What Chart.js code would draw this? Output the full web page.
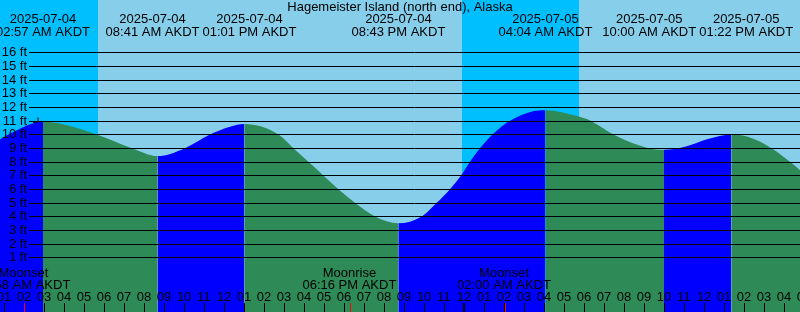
<!DOCTYPE html>
<html>
<head>
<meta charset="utf-8">
<title>Hagemeister Island (north end), Alaska</title>
<script src="https://cdn.jsdelivr.net/npm/chart.js@4"></script>
<style>
	html, body { margin: 0; padding: 0; background: #87ceeb; }
	canvas { display: block; }
</style>
</head>
<body>
<canvas id="tideChart" width="800" height="312"></canvas>
<script>
// Tide chart - hours are counted from 2025-07-04 00:00 AKDT

const chartTitle = "Hagemeister Island (north end), Alaska";

// Water level (hours, feet)
const tideHours = [
	0.8, 1.22, 2.95, 4.15, 5.63, 7.4, 8.68, 10.05, 11.3, 12.3,
	13.02, 14.72, 15.47, 16.22, 16.97, 17.72, 18.55, 19.55, 20.72, 21.885,
	22.635, 23.3, 23.85, 24.3, 24.8, 25.43, 26.3, 27.45, 28.07, 29.7,
	30.33, 31.47, 33.22, 34.0, 35.05, 36.2, 37.37, 38.2, 39.38, 40.3,
	40.8,
];
const tideFeet = [
	9.64, 10.0, 10.93, 10.68, 10.0, 9.0, 8.42, 9.0, 10.0, 10.56,
	10.76, 10.0, 9.0, 8.0, 7.0, 6.0, 5.0, 4.0, 3.5, 4.0,
	5.0, 6.0, 7.0, 8.0, 9.0, 10.0, 11.0, 11.7, 11.78, 11.33,
	11.0, 10.0, 9.0, 8.88, 9.1, 9.66, 10.0, 9.83, 9.0, 8.0,
	7.39,
];

// High / low tide events shown along the top
const eventHours = [2.95, 8.68, 13.02, 20.72, 28.07, 34.0, 37.37];
const eventDates = [
	"2025-07-04", "2025-07-04", "2025-07-04", "2025-07-04",
	"2025-07-05", "2025-07-05", "2025-07-05",
];
const eventTimes = [
	"02:57 AM AKDT", "08:41 AM AKDT", "01:01 PM AKDT", "08:43 PM AKDT",
	"04:04 AM AKDT", "10:00 AM AKDT", "01:22 PM AKDT",
];

// Moon events shown along the bottom
const moonHours = [1.97, 18.27, 26.0];
const moonNames = ["Moonset", "Moonrise", "Moonset"];
const moonTimes = ["01:58 AM AKDT", "06:16 PM AKDT", "02:00 AM AKDT"];

// Night bands (sunset -> sunrise)
const nightStart = [0.8, 23.88];
const nightEnd = [5.68, 29.75];

// Depth ruler
const footTicks = [1, 2, 3, 4, 5, 6, 7, 8, 9, 10, 11, 12, 13, 14, 15, 16];

// "+" marker on the curve
const markerHour = [2.7];
const markerFeet = [10.88];

const colors = {
	day: "#87ceeb",
	night: "#00bfff",
	rising: "#0000ff",
	falling: "#2e8b57",
	ink: "#000000",
	moon: "#ff0000",
};

const font = "13px 'Liberation Sans', Arial, sans-serif";

function hourLabel(h) {
	const v = ((h - 1) % 12) + 1;
	return v < 10 ? "0" + v : String(v);
}

// push neighbouring labels apart so they do not overlap
function spreadLabels(centers, widths, gap) {
	const out = centers.slice();
	for (let i = 0; i < out.length - 1; i++) {
		const need = (widths[i] + widths[i + 1]) / 2 + gap;
		const d = out[i + 1] - out[i];
		if (d < need) {
			const shift = (need - d) / 2;
			out[i] -= shift;
			out[i + 1] += shift;
		}
	}
	return out;
}

// Sky behind the water
const skyPlugin = {
	id: "sky",
	beforeDatasetsDraw(chart) {
		const { ctx, chartArea: a, scales } = chart;
		ctx.save();
		ctx.fillStyle = colors.day;
		ctx.fillRect(a.left, a.top, a.width, a.height);
		ctx.fillStyle = colors.night;
		for (let i = 0; i < nightStart.length; i++) {
			const x0 = Math.round(scales.x.getPixelForValue(nightStart[i]));
			const x1 = Math.round(scales.x.getPixelForValue(nightEnd[i]));
			ctx.fillRect(x0, a.top, x1 - x0, a.height);
		}
		ctx.restore();
	},
};

// Ruler lines, labels and hour ticks
const decorPlugin = {
	id: "decor",
	afterDatasetsDraw(chart) {
		const { ctx, chartArea: a, scales } = chart;
		const xs = scales.x;
		const ys = scales.y;
		ctx.save();
		ctx.font = font;
		ctx.fillStyle = colors.ink;
		ctx.strokeStyle = colors.ink;
		ctx.lineWidth = 1;
		ctx.textBaseline = "middle";

		// foot lines
		footTicks.forEach((ft) => {
			const y = Math.round(ys.getPixelForValue(ft)) + 0.5;
			ctx.beginPath();
			ctx.moveTo(29, y);
			ctx.lineTo(a.right, y);
			ctx.stroke();
			ctx.textAlign = "right";
			ctx.fillText(ft + " ft", 27, y);
		});

		// title
		ctx.textAlign = "center";
		ctx.fillText(chartTitle, (a.left + a.right) / 2, 7.5);

		// tide events
		const widths = eventTimes.map((t) => ctx.measureText(t).width);
		const centers = spreadLabels(
			eventHours.map((h) => xs.getPixelForValue(h)),
			widths,
			3,
		);
		centers.forEach((x, i) => {
			ctx.fillText(eventDates[i], x, 19.5);
			ctx.fillText(eventTimes[i], x, 32);
		});

		// moon events
		moonHours.forEach((h, i) => {
			const x = xs.getPixelForValue(h);
			ctx.fillText(moonNames[i], x, 273.5);
			ctx.fillText(moonTimes[i], x, 285.5);
		});

		// hour labels and ticks
		for (let h = Math.ceil(xs.min); h <= Math.ceil(xs.max); h++) {
			const x = xs.getPixelForValue(h);
			ctx.fillText(hourLabel(h), x, 297);
			ctx.beginPath();
			if (h % 24 === 0) {
				ctx.lineWidth = 2;
				ctx.moveTo(x, 303);
				ctx.lineTo(x, a.bottom);
			} else {
				ctx.lineWidth = 1;
				ctx.moveTo(Math.round(x) + 0.5, 303);
				ctx.lineTo(Math.round(x) + 0.5, a.bottom);
			}
			ctx.stroke();
		}

		// moon ticks in red
		ctx.strokeStyle = colors.moon;
		ctx.lineWidth = 1;
		moonHours.forEach((h) => {
			const x = Math.floor(xs.getPixelForValue(h)) + 1.5;
			ctx.beginPath();
			ctx.moveTo(x, 303);
			ctx.lineTo(x, a.bottom);
			ctx.stroke();
		});
		ctx.restore();
	},
};

new Chart(document.getElementById("tideChart"), {
	type: "line",
	data: {
		datasets: [
			{
				label: "Tide",
				data: tideHours.map((h, i) => ({ x: h, y: tideFeet[i] })),
				fill: "start",
				backgroundColor: colors.falling,
				borderWidth: 0,
				pointRadius: 0,
				cubicInterpolationMode: "monotone",
				segment: {
					backgroundColor: (c) =>
						c.p1.parsed.y > c.p0.parsed.y ? colors.rising : colors.falling,
				},
			},
			{
				label: "Marker",
				type: "scatter",
				data: markerHour.map((h, i) => ({ x: h, y: markerFeet[i] })),
				pointStyle: "cross",
				pointRadius: 5,
				borderColor: colors.ink,
				borderWidth: 1,
			},
		],
	},
	options: {
		responsive: false,
		animation: false,
		devicePixelRatio: 1,
		layout: { padding: 0, autoPadding: false },
		scales: {
			x: { type: "linear", min: 0.8, max: 40.8, display: false },
			y: { min: -2.99, max: 19.84, display: false },
		},
		plugins: {
			legend: { display: false },
			tooltip: { enabled: false },
		},
	},
	plugins: [skyPlugin, decorPlugin],
});
</script>
</body>
</html>
